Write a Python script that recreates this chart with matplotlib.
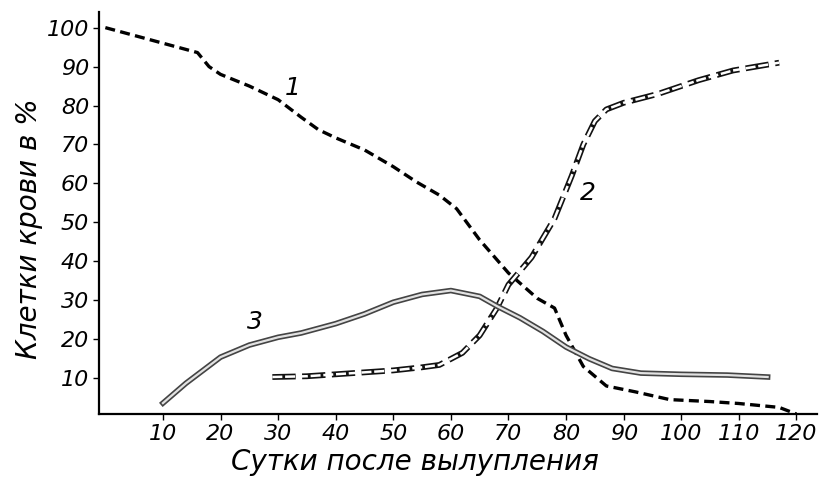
import numpy as np
import matplotlib
matplotlib.use("Agg")
import matplotlib.pyplot as plt

# Curve 1 - dashed, falling
days_1 = [0, 5, 10, 16, 18, 20, 25, 30, 34, 37, 40, 45, 50, 54, 58, 61, 65, 70, 75, 78, 80, 83, 87, 92, 98, 105, 110, 117, 120]
cells_1 = [100, 98, 96, 93.6, 90, 88, 85, 81.5, 77, 73.8, 71.7, 68.6, 64.3, 60.4, 57, 53.5, 45.5, 37, 30.5, 28, 21, 13, 8, 6.5, 4.5, 4, 3.5, 2.5, 0.8]

# Curve 2 - hollow dashes, rising
days_2 = [29, 35, 40, 45, 50, 55, 58, 62, 65, 68, 70, 74, 78, 81, 83, 85, 87, 90, 96, 103, 109, 117]
cells_2 = [10.3, 10.5, 11, 11.5, 12, 12.8, 13.4, 16.5, 21, 28, 34, 41, 51, 62, 70, 76, 79, 80.7, 83, 86.5, 89, 91]

# Curve 3 - double (hollow) solid line
days_3 = [10, 14, 20, 25, 30, 34, 40, 45, 50, 55, 60, 65, 68, 72, 76, 80, 84, 88, 93, 100, 108, 115]
cells_3 = [3.6, 8.7, 15.4, 18.5, 20.5, 21.6, 24, 26.5, 29.5, 31.5, 32.5, 31, 28.5, 25.5, 22, 18, 15, 12.5, 11.3, 11, 10.8, 10.3]

curve_labels = ["1", "2", "3"]
label_pos = [(32.6, 84.5), (83.8, 57.5), (26, 24.5)]

x_ticks = list(range(10, 121, 10))
y_ticks = list(range(10, 101, 10))

fig = plt.figure(figsize=(8.21, 4.92), dpi=100)
ax = fig.add_axes([0.1206, 0.1585, 0.874, 0.817])

ax.plot(days_1, cells_1, color="black", lw=2.4, dashes=(3, 1.6))

# hollow dashes: black outline then white core
ax.plot(days_2, cells_2, color="#111111", lw=4.2, dashes=(4, 1.1))
ax.plot(days_2, cells_2, color="white", lw=1.8, dashes=(4, 1.1))

# double line
ax.plot(days_3, cells_3, color="#444444", lw=4.0)
ax.plot(days_3, cells_3, color="#e2e2e2", lw=1.6)

txt = dict(family="DejaVu Sans", style="italic", color="black")
for lab, (lx, ly) in zip(curve_labels, label_pos):
    ax.text(lx, ly, lab, fontsize=18, ha="center", va="center", **txt)

ax.set_xlim(-1.1, 123.5)
ax.set_ylim(0.8, 104)
ax.set_xticks(x_ticks)
ax.set_yticks(y_ticks)
ax.set_xticklabels([str(t) for t in x_ticks], fontsize=16, **txt)
ax.set_yticklabels([str(t) for t in y_ticks], fontsize=16, **txt)
ax.tick_params(axis="both", length=4, width=1, direction="out", pad=3)

for s in ["top", "right"]:
    ax.spines[s].set_visible(False)
for s in ["left", "bottom"]:
    ax.spines[s].set_linewidth(1.6)

ax.set_xlabel("Сутки после вылупления", fontsize=20, **txt)
ax.xaxis.set_label_coords(0.44, -0.085)
ax.set_ylabel("Клетки крови в %", fontsize=20, **txt)
ax.yaxis.set_label_coords(-0.078, 0.46)

fig.savefig("out.png", dpi=100, facecolor="white")
